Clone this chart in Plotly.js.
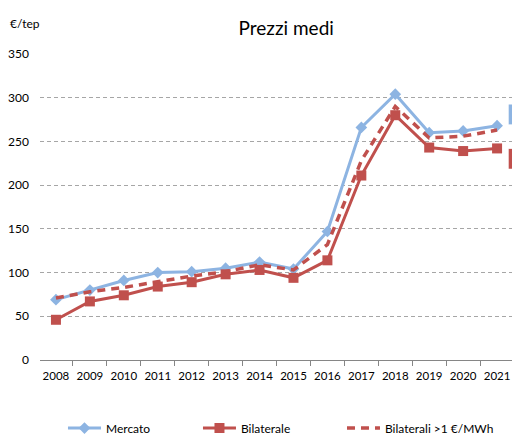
<!DOCTYPE html>
<html><head><meta charset="utf-8">
<script src="https://cdn.plot.ly/plotly-3.0.1.min.js"></script>
<style>html,body{margin:0;padding:0;overflow:hidden;background:#fff}</style>
</head><body><div id="chart" style="width:512px;height:440px"></div>
<script>
const years = ["2008","2009","2010","2011","2012","2013","2014","2015","2016","2017","2018","2019","2020","2021"];
const mercato = [69, 80, 91, 100, 101, 105, 112, 104, 147, 266, 304, 260, 262, 268];
const bilaterale = [46, 67, 74, 84, 89, 98, 103, 94, 114, 211, 280, 243, 239, 242];
const bilaterali1 = [71, 78, 83, 90, 96, 101, 109, 103, 132, 228, 290, 254, 256, 263];
const yTicks = [0, 50, 100, 150, 200, 250, 300, 350];

const font = "Lato, 'Open Sans', sans-serif";
const traces = [
  {x: years, y: mercato, name: "Mercato", type: "scatter", mode: "lines+markers", legendwidth: 87,
   line: {color: "#8DB4E2", width: 3}, marker: {symbol: "diamond", size: 9, color: "#8DB4E2"}},
  {x: years, y: bilaterale, name: "Bilaterale", type: "scatter", mode: "lines+markers", legendwidth: 96,
   line: {color: "#C0504D", width: 3}, marker: {symbol: "square", size: 10, color: "#C0504D"}},
  {x: years, y: bilaterali1, name: "Bilaterali >1 €/MWh", type: "scatter", mode: "lines", legendwidth: 130,
   line: {color: "#C0504D", width: 3.5, dash: "8px,6px"}}
];
const layout = {
  width: 512, height: 440,
  margin: {l: 40, r: 0, t: 54, b: 80},
  paper_bgcolor: "#fff", plot_bgcolor: "#fff",
  font: {family: font, size: 12, color: "#000"},
  title: {text: "Prezzi medi", font: {family: font, size: 19, color: "#000"},
          x: 0.559, xref: "container", xanchor: "center", y: 0.935, yref: "container", yanchor: "middle"},
  showlegend: true,
  legend: {orientation: "h", x: 0.123, xref: "container", xanchor: "left", y: 0.027, yref: "container", yanchor: "middle",
           font: {family: font, size: 12}, itemwidth: 33, bgcolor: "rgba(0,0,0,0)"},
  xaxis: {type: "category", range: [-0.47, 13.44], tickson: "boundaries", ticks: "outside", ticklen: 5,
          tickcolor: "#868686", showline: true, linecolor: "#868686", linewidth: 1, showgrid: false,
          tickangle: 0, ticklabelstandoff: 5, tickfont: {family: font, size: 11.5}, fixedrange: true},
  yaxis: {range: [0, 350], tickvals: yTicks, ticktext: yTicks.map(String), showgrid: true,
          gridcolor: "#A6A6A6", griddash: "4px,3px", gridwidth: 1, zeroline: false, showline: false,
          ticks: "", ticklabelstandoff: 10, tickfont: {family: font, size: 12}},
  annotations: [{text: "€/tep", xref: "paper", yref: "paper", x: -0.032, y: 1.101, xanchor: "center",
                 yanchor: "middle", showarrow: false, font: {family: font, size: 12}}],
  shapes: [
    {type: "rect", xref: "paper", yref: "paper", x0: 0.993, x1: 1.0, y0: 0.77, y1: 0.835, fillcolor: "#8DB4E2", line: {width: 0}},
    {type: "rect", xref: "paper", yref: "paper", x0: 0.993, x1: 1.0, y0: 0.625, y1: 0.69, fillcolor: "#C0504D", line: {width: 0}}
  ]
};
Plotly.newPlot("chart", traces, layout, {displayModeBar: false, staticPlot: true});
</script></body></html>
